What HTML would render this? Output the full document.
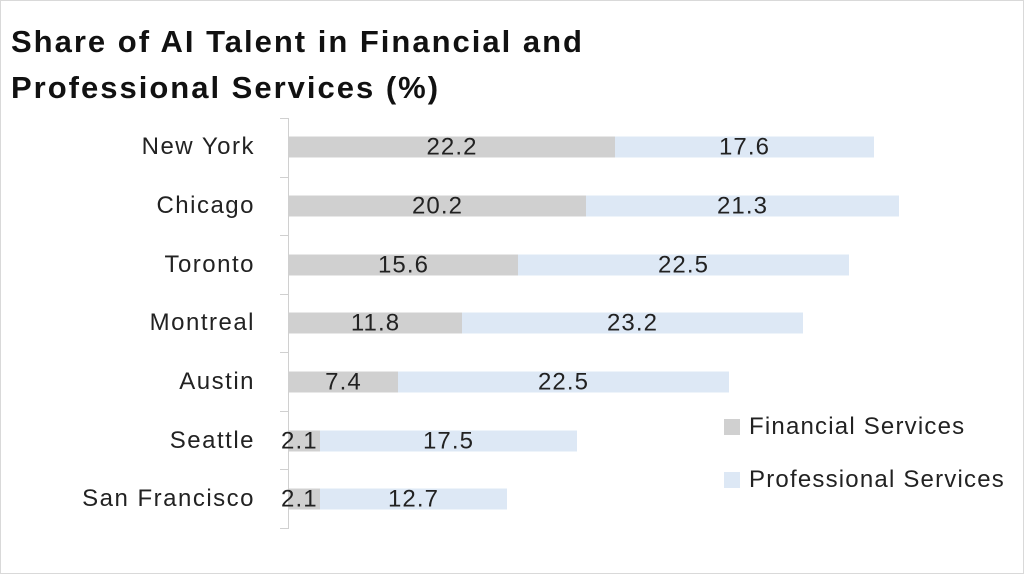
<!DOCTYPE html>
<html><head><meta charset="utf-8"><style>
body{margin:0;background:#fff}
.w{position:relative;width:1022px;height:572px;border:1px solid #d9d9d9;background:#fff;font-family:"Liberation Sans",sans-serif;overflow:hidden}
.t{position:absolute;left:10px;top:18px;font-size:31px;letter-spacing:2px;font-weight:bold;line-height:46px;color:#111}
.l{position:absolute;right:768px;font-size:24px;letter-spacing:1.5px;color:#222;transform:translateY(-50%)}
.b{position:absolute;height:21px;transform:translateY(-50%);font-size:24px;letter-spacing:1.1px;color:#222;text-align:center;line-height:21px}
.f{background:#d0d0d0}.p{background:#dde8f5}
.ax{position:absolute;left:287px;top:117px;width:1px;height:410px;background:#d0d0d0}
.tk{position:absolute;left:279px;width:9px;height:1px;background:#d0d0d0}
.lg{position:absolute;left:723px;width:16px;height:16px}
.lt{position:absolute;left:748px;font-size:24px;letter-spacing:1.2px;color:#222;transform:translateY(-50%)}
</style></head><body><div class="w">
<div class="t">Share of AI Talent in Financial and<br>Professional Services (%)</div>
<div class="ax"></div>
<div class="tk" style="top:117px"></div><div class="tk" style="top:176px"></div><div class="tk" style="top:234px"></div><div class="tk" style="top:293px"></div><div class="tk" style="top:351px"></div><div class="tk" style="top:410px"></div><div class="tk" style="top:468px"></div><div class="tk" style="top:527px"></div>

<div class="l" style="top:146px">New York</div>
<div class="b f" style="top:146px;left:288px;width:326px">22.2</div><div class="b p" style="top:146px;left:614px;width:259px">17.6</div>
<div class="l" style="top:205px">Chicago</div>
<div class="b f" style="top:205px;left:288px;width:297px">20.2</div><div class="b p" style="top:205px;left:585px;width:313px">21.3</div>
<div class="l" style="top:264px">Toronto</div>
<div class="b f" style="top:264px;left:288px;width:229px">15.6</div><div class="b p" style="top:264px;left:517px;width:331px">22.5</div>
<div class="l" style="top:322px">Montreal</div>
<div class="b f" style="top:322px;left:288px;width:173px">11.8</div><div class="b p" style="top:322px;left:461px;width:341px">23.2</div>
<div class="l" style="top:381px">Austin</div>
<div class="b f" style="top:381px;left:288px;width:109px">7.4</div><div class="b p" style="top:381px;left:397px;width:331px">22.5</div>
<div class="l" style="top:440px">Seattle</div>
<div class="b f" style="top:440px;left:288px;width:31px;overflow:visible"><span style="position:absolute;left:-8px">2.1</span></div><div class="b p" style="top:440px;left:319px;width:257px">17.5</div>
<div class="l" style="top:498px">San Francisco</div>
<div class="b f" style="top:498px;left:288px;width:31px;overflow:visible"><span style="position:absolute;left:-8px">2.1</span></div><div class="b p" style="top:498px;left:319px;width:187px">12.7</div>

<div class="lg f" style="top:418px"></div><div class="lt" style="top:426px">Financial Services</div>
<div class="lg p" style="top:471px"></div><div class="lt" style="top:479px">Professional Services</div>
</div></body></html>
